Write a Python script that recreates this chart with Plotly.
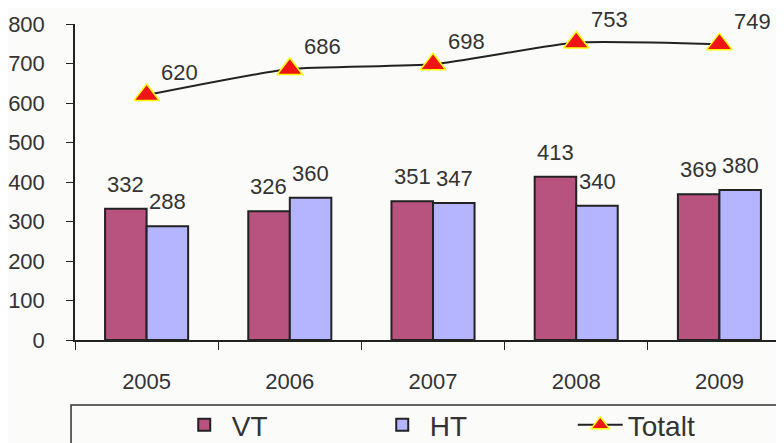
import plotly.graph_objects as go

years = ["2005", "2006", "2007", "2008", "2009"]
vt = [332, 326, 351, 413, 369]
ht = [288, 360, 347, 340, 380]
totalt = [620, 686, 698, 753, 749]
y_ticks = [0, 100, 200, 300, 400, 500, 600, 700, 800]

FONT = "Liberation Sans, Arial, sans-serif"
TXT = "#333333"
FS = 22

fig = go.Figure()
fig.add_trace(go.Bar(
    x=years, y=vt, name="VT",
    marker=dict(color="#B8527F", line=dict(color="#222222", width=2)),
))
fig.add_trace(go.Bar(
    x=years, y=ht, name="HT",
    marker=dict(color="#B4B4FF", line=dict(color="#222222", width=2)),
))
fig.add_trace(go.Scatter(
    x=years, y=totalt, name="Totalt", mode="lines+markers",
    line=dict(color="#222222", width=2, shape="spline", smoothing=0.5),
    marker=dict(symbol="triangle-up", size=22, color="#F01515",
                line=dict(color="#FFFF00", width=1.5)),
    cliponaxis=False,
))

annotations = []
for series, xs, ys, anchor in ((vt, -21, 10, "bottom"), (ht, 21, 10, "bottom"),
                                (totalt, 33, 23, "middle")):
    for i, v in enumerate(series):
        annotations.append(dict(
            x=i, y=v, xref="x", yref="y", text=str(v), showarrow=False,
            xshift=xs, yshift=ys, yanchor=anchor, xanchor="center",
            font=dict(family=FONT, size=FS, color=TXT)))

fig.update_layout(
    width=776, height=435,
    margin=dict(l=65, r=0, t=16, b=103),
    paper_bgcolor="#FBFBF9", plot_bgcolor="#FBFBF9",
    barmode="group", bargap=0.42, bargroupgap=0,
    font=dict(family=FONT, size=FS, color=TXT),
    showlegend=True,
    legend=dict(orientation="h", x=0.1435, xanchor="left",
                yref="container", y=0.041, yanchor="middle",
                font=dict(family=FONT, size=28, color=TXT),
                bgcolor="rgba(0,0,0,0)", entrywidth=138, itemwidth=45),
    xaxis=dict(type="category", range=[-0.5, 4.451], showline=True, linecolor="#222222",
               linewidth=1.5, ticks="outside", tickson="boundaries", ticklen=8,
               tickcolor="#222222", ticklabelstandoff=21, showgrid=False, zeroline=False,
               tickfont=dict(family=FONT, size=FS, color=TXT)),
    yaxis=dict(range=[0, 800], tickvals=y_ticks, showline=True, linecolor="#222222",
               linewidth=1.5, ticks="outside", ticklen=7, tickcolor="#222222",
               showgrid=False, zeroline=False, ticklabelstandoff=17,
               tickfont=dict(family=FONT, size=FS, color=TXT)),
    annotations=annotations,
    shapes=[dict(type="rect", xref="paper", yref="paper",
                 x0=-0.0056, x1=1.05, y0=-0.2057, y1=-0.6,
                 line=dict(color="#333333", width=1.5), fillcolor="rgba(0,0,0,0)")],
)

fig.write_html("out.html")
